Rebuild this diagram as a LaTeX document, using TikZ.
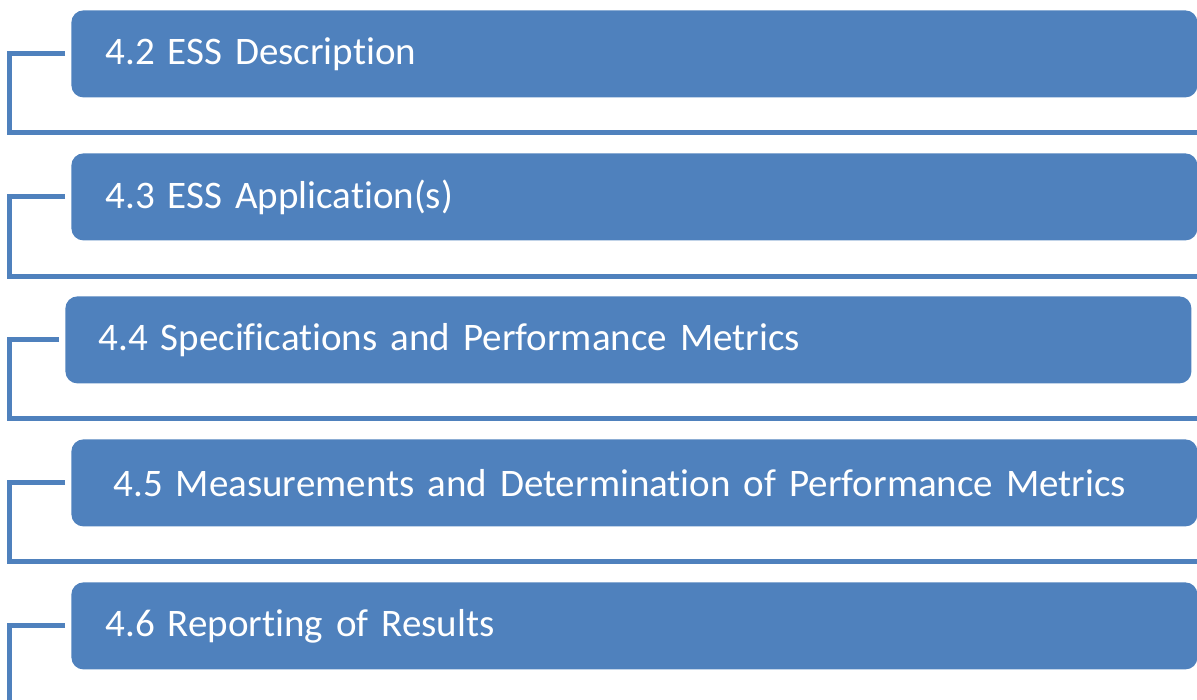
\documentclass[tikz,border=0pt]{standalone}
\usepackage{fontspec}
\setmainfont{Carlito}[Ligatures=NoCommon]
\usetikzlibrary{positioning}

\definecolor{officeblue}{HTML}{4F81BD}

\begin{document}
\begin{tikzpicture}[x=0.5pt, y=-0.5pt,
    entry/.style={fill=officeblue, rounded corners=6pt, text=white,
        font=\fontsize{19.5}{23}\selectfont, align=left, anchor=north west,
        minimum height=43.5pt, inner ysep=0pt},
    rail/.style={draw=officeblue, line width=2.5pt}]
    \useasboundingbox (0,0) rectangle (1197,700);

    % Section boxes
    \node[entry, inner xsep=17pt, text width=529pt] (s42) at (71,10) {4.2 ESS Description};
    \node[entry, inner xsep=17pt, text width=529pt] (s43) at (71,153) {4.3 ESS Application(s)};
    \node[entry, inner xsep=16.5pt, text width=530pt] (s44) at (65,296) {4.4 Specifications and Performance Metrics};
    \node[entry, inner xsep=21pt, text width=521pt] (s45) at (71,439) {4.5 Measurements and Determination of Performance Metrics};
    \node[entry, inner xsep=17pt, text width=529pt] (s46) at (71,582) {4.6 Reporting of Results};

    % Brackets on the left
    \draw[rail] ([xshift=-3pt]s42.west) -| (9.5,133) -- (1197,133);
    \draw[rail] ([xshift=-3pt]s43.west) -| (9.5,276) -- (1197,276);
    \draw[rail] ([xshift=-3pt]s44.west) -| (9.5,418) -- (1197,418);
    \draw[rail] ([xshift=-3pt]s45.west) -| (9.5,561) -- (1197,561);
    \draw[rail] ([xshift=-3pt]s46.west) -| (9.5,702);
\end{tikzpicture}
\end{document}
